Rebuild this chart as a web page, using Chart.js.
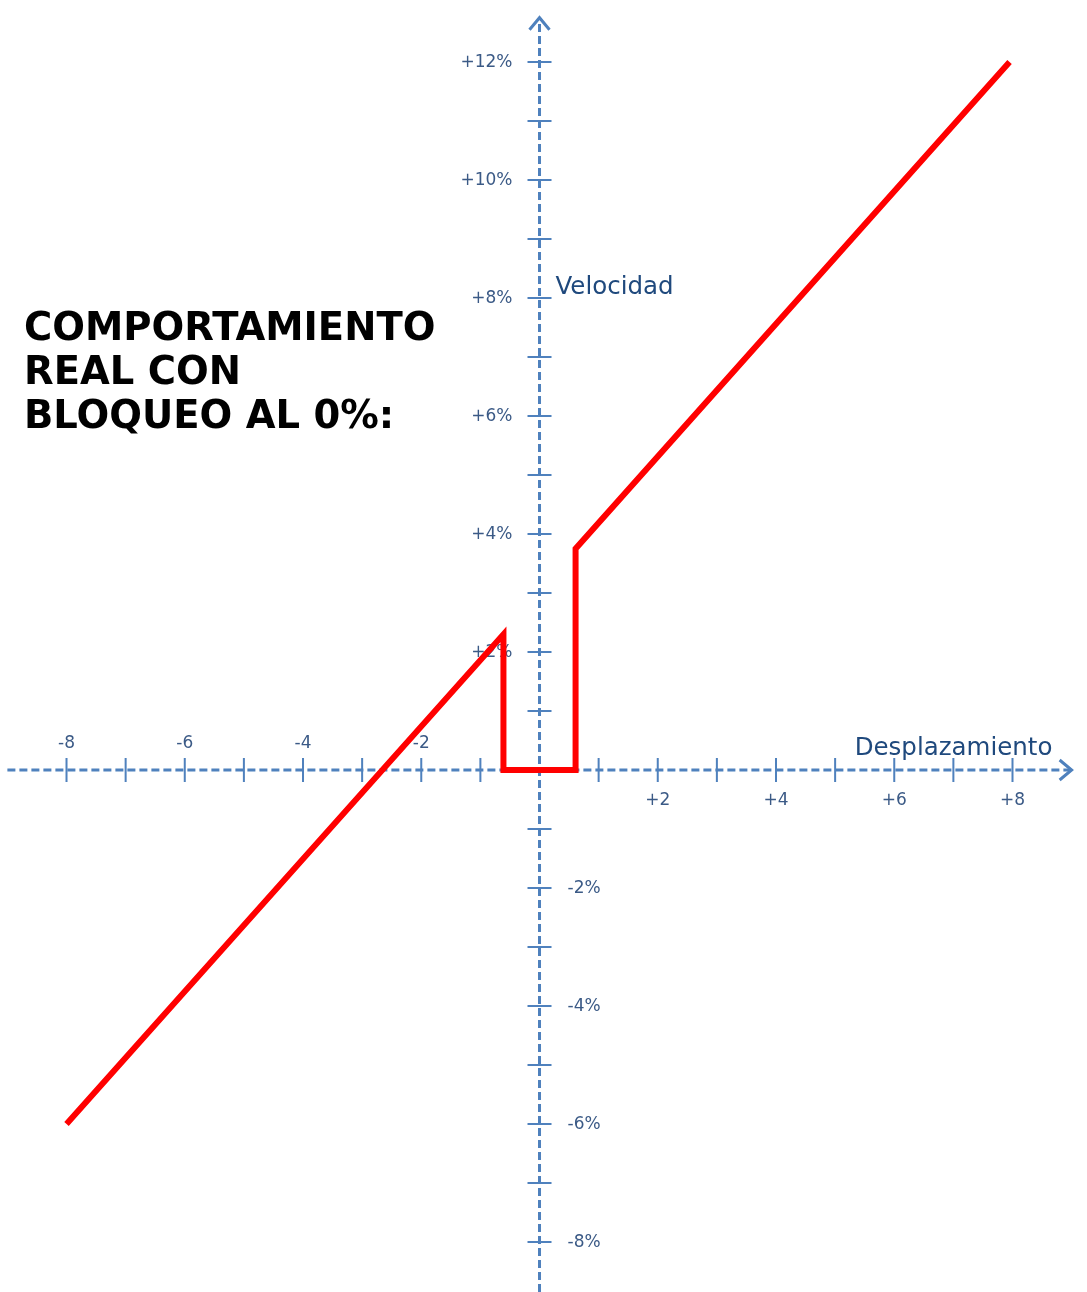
<!DOCTYPE html>
<html>
<head>
<meta charset="utf-8">
<script src="https://cdn.jsdelivr.net/npm/chart.js@4.4.1/dist/chart.umd.min.js"></script>
<style>
  html, body { margin: 0; padding: 0; background: #fff; }
  #wrap { position: relative; width: 1087px; height: 1292px; }
  #chart { position: absolute; left: 0; top: 0; }
  .title {
    position: absolute; left: 24px; top: 305px;
    font-family: "DejaVu Sans", Verdana, sans-serif; font-weight: bold;
    font-size: 38.5px; line-height: 44px; color: #000;
  }
</style>
</head>
<body>
<div id="wrap">
  <canvas id="chart" width="1087" height="1292"></canvas>
  <div class="title">COMPORTAMIENTO<br>REAL CON<br>BLOQUEO AL 0%:</div>
</div>
<script>
// desplazamiento (x) vs velocidad (%)
const displacement = [-8, -0.61, -0.61, 0.61, 0.61, 7.95];
const velocity = [-6, 2.3, 0, 0, 3.75, 12];

const xTickValues = [-8, -7, -6, -5, -4, -3, -2, -1, 1, 2, 3, 4, 5, 6, 7, 8];
const xLabelValues = [-8, -6, -4, -2, 2, 4, 6, 8];
const xLabels = ['-8', '-6', '-4', '-2', '+2', '+4', '+6', '+8'];

const yTickValues = [12, 11, 10, 9, 8, 7, 6, 5, 4, 3, 2, 1, -1, -2, -3, -4, -5, -6, -7, -8];
const yLabelValues = [12, 10, 8, 6, 4, 2, -2, -4, -6, -8];
const yLabels = ['+12%', '+10%', '+8%', '+6%', '+4%', '+2%', '-2%', '-4%', '-6%', '-8%'];

const axisColor = '#4f81bd';
const labelColor = '#3b5a86';
const nameColor = '#1f497d';

// draws the cross-shaped axes through the origin, under the red line
const crossAxes = {
  id: 'crossAxes',
  beforeDatasetsDraw(chart) {
    const { ctx, scales: { x, y } } = chart;
    const x0 = x.getPixelForValue(0);
    const y0 = y.getPixelForValue(0);
    const xEnd = x.getPixelForValue(9.0);
    const xStart = x.getPixelForValue(-9.0);
    const yTop = y.getPixelForValue(12.75);
    const yBottom = chart.height;

    ctx.save();
    ctx.strokeStyle = axisColor;
    ctx.lineWidth = 3;
    ctx.setLineDash([8, 4]);
    ctx.beginPath();
    ctx.moveTo(xStart, y0);
    ctx.lineTo(xEnd - 2, y0);
    ctx.moveTo(x0, yBottom);
    ctx.lineTo(x0, yTop + 2);
    ctx.stroke();

    // arrow heads
    ctx.setLineDash([]);
    ctx.lineWidth = 3;
    ctx.lineJoin = 'miter';
    ctx.beginPath();
    ctx.moveTo(xEnd - 12, y0 - 10);
    ctx.lineTo(xEnd, y0);
    ctx.lineTo(xEnd - 12, y0 + 10);
    ctx.moveTo(x0 - 10, yTop + 12);
    ctx.lineTo(x0, yTop);
    ctx.lineTo(x0 + 10, yTop + 12);
    ctx.stroke();

    // tick marks
    ctx.lineWidth = 2;
    ctx.beginPath();
    xTickValues.forEach(v => {
      const px = x.getPixelForValue(v);
      ctx.moveTo(px, y0 - 12);
      ctx.lineTo(px, y0 + 12);
    });
    yTickValues.forEach(v => {
      const py = y.getPixelForValue(v);
      ctx.moveTo(x0 - 12, py);
      ctx.lineTo(x0 + 12, py);
    });
    ctx.stroke();

    // tick labels
    ctx.fillStyle = labelColor;
    ctx.font = '17px "DejaVu Sans", Verdana, sans-serif';
    ctx.textBaseline = 'middle';
    ctx.textAlign = 'center';
    xLabelValues.forEach((v, i) => {
      const px = x.getPixelForValue(v);
      ctx.fillText(xLabels[i], px, v < 0 ? y0 - 26 : y0 + 31);
    });
    yLabelValues.forEach((v, i) => {
      const py = y.getPixelForValue(v);
      if (v > 0) {
        ctx.textAlign = 'right';
        ctx.fillText(yLabels[i], x0 - 27, py + 1);
      } else {
        ctx.textAlign = 'left';
        ctx.fillText(yLabels[i], x0 + 28, py + 1);
      }
    });

    // axis names
    ctx.fillStyle = nameColor;
    ctx.font = '24.5px "DejaVu Sans", Verdana, sans-serif';
    ctx.textAlign = 'left';
    ctx.textBaseline = 'alphabetic';
    ctx.fillText('Velocidad', x0 + 16, y.getPixelForValue(8.07));
    ctx.fillText('Desplazamiento', x.getPixelForValue(5.33), y0 - 15);
    ctx.restore();
  }
};

new Chart(document.getElementById('chart'), {
  type: 'scatter',
  data: {
    datasets: [{
      data: displacement.map((d, i) => ({ x: d, y: velocity[i] })),
      showLine: true,
      borderColor: '#ff0000',
      borderWidth: 6,
      borderJoinStyle: 'miter',
      borderCapStyle: 'butt',
      pointRadius: 0,
      tension: 0
    }]
  },
  options: {
    responsive: false,
    devicePixelRatio: 1,
    animation: false,
    layout: { padding: 0 },
    plugins: { legend: { display: false }, tooltip: { enabled: false } },
    scales: {
      x: { type: 'linear', display: false, min: -9.125, max: 9.26 },
      y: { type: 'linear', display: false, min: -8.847, max: 13.05 }
    }
  },
  plugins: [crossAxes]
});
</script>
</body>
</html>
